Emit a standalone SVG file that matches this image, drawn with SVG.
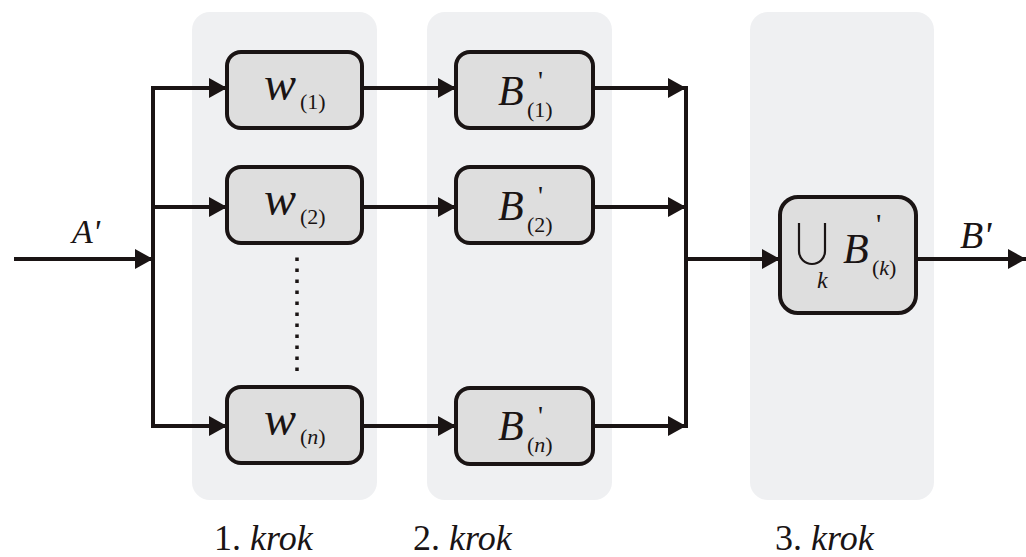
<svg xmlns="http://www.w3.org/2000/svg" width="1026" height="557" viewBox="0 0 1026 557">
  <defs>
    <marker id="arr" viewBox="0 0 18 20" refX="18" refY="10" markerWidth="18" markerHeight="20" markerUnits="userSpaceOnUse" orient="auto">
      <path d="M0,0 L18,10 L0,20 Z" fill="#1a1414"/>
    </marker>
    <style>
      .panel { fill: #eff0f2; }
      .box { fill: #dedede; stroke: #1a1414; stroke-width: 4; }
      .wire { fill: none; stroke: #1a1414; stroke-width: 4; }
      .t { fill: #1a1414; }
      .it { font-style: italic; }
    </style>
  </defs>

  <!-- step panels -->
  <rect class="panel" x="192" y="12" width="185" height="488" rx="18"/>
  <rect class="panel" x="427" y="12" width="185" height="488" rx="18"/>
  <rect class="panel" x="750" y="12" width="184" height="488" rx="18"/>

  <!-- connectors -->
  <g id="connectors">
    <path class="wire" d="M14,259 H153" marker-end="url(#arr)"/>
    <path class="wire" d="M153,86 V428"/>
    <path class="wire" d="M151,88 H227" marker-end="url(#arr)"/>
    <path class="wire" d="M153,207 H227" marker-end="url(#arr)"/>
    <path class="wire" d="M151,426 H227" marker-end="url(#arr)"/>
    <path class="wire" d="M362,88 H456" marker-end="url(#arr)"/>
    <path class="wire" d="M362,207 H456" marker-end="url(#arr)"/>
    <path class="wire" d="M362,426 H456" marker-end="url(#arr)"/>
    <path class="wire" d="M593,88 H686" marker-end="url(#arr)"/>
    <path class="wire" d="M593,207 H686" marker-end="url(#arr)"/>
    <path class="wire" d="M593,426 H686" marker-end="url(#arr)"/>
    <path class="wire" d="M686,86 V428"/>
    <path class="wire" d="M686,259 H780" marker-end="url(#arr)"/>
    <path class="wire" d="M916,259 H1026" marker-end="url(#arr)"/>
    <path d="M297,257.5 V371" fill="none" stroke="#1a1414" stroke-width="3.5" stroke-dasharray="3.5 7.5"/>
  </g>

  <g font-family="Liberation Serif, Times New Roman, serif" class="t">
    <!-- step 1 nodes -->
    <g id="w1">
      <rect class="box" x="227" y="52" width="135" height="76" rx="14"/>
      <text class="it" x="264" y="100" font-size="48">w</text>
      <text x="300" y="109" font-size="22">(1)</text>
    </g>
    <g id="w2">
      <rect class="box" x="227" y="167" width="135" height="76" rx="14"/>
      <text class="it" x="264" y="215" font-size="48">w</text>
      <text x="300" y="224" font-size="22">(2)</text>
    </g>
    <g id="wn">
      <rect class="box" x="227" y="387" width="135" height="76" rx="14"/>
      <text class="it" x="264" y="435" font-size="48">w</text>
      <text x="300" y="444" font-size="22">(<tspan class="it">n</tspan>)</text>
    </g>

    <!-- step 2 nodes -->
    <g id="B1">
      <rect class="box" x="456" y="52" width="137" height="76" rx="14"/>
      <text class="it" x="498" y="105" font-size="42">B</text>
      <text x="538" y="90" font-size="28">'</text>
      <text x="527" y="117" font-size="22">(1)</text>
    </g>
    <g id="B2">
      <rect class="box" x="456" y="167" width="137" height="76" rx="14"/>
      <text class="it" x="498" y="220" font-size="42">B</text>
      <text x="538" y="205" font-size="28">'</text>
      <text x="527" y="232" font-size="22">(2)</text>
    </g>
    <g id="Bn">
      <rect class="box" x="456" y="388" width="137" height="76" rx="14"/>
      <text class="it" x="498" y="440" font-size="42">B</text>
      <text x="538" y="425" font-size="28">'</text>
      <text x="527" y="452" font-size="22">(<tspan class="it">n</tspan>)</text>
    </g>

    <!-- step 3 node -->
    <g id="union">
      <rect class="box" x="780" y="197" width="136" height="116" rx="18"/>
      <path d="M799,223 V251 A13,13 0 0 0 825,251 V223" fill="none" stroke="#1a1414" stroke-width="2.2"/>
      <text class="it" x="817" y="288" font-size="24">k</text>
      <text class="it" x="843" y="263" font-size="42">B</text>
      <text x="876" y="234" font-size="30">'</text>
      <text x="872" y="275" font-size="22">(<tspan class="it">k</tspan>)</text>
    </g>

    <!-- signal labels -->
    <text class="it" x="72" y="243" font-size="34">A'</text>
    <text class="it" x="960" y="248" font-size="38">B'</text>

    <!-- step captions -->
    <text x="214" y="550" font-size="36">1. <tspan class="it">krok</tspan></text>
    <text x="413" y="550" font-size="36">2. <tspan class="it">krok</tspan></text>
    <text x="775" y="550" font-size="36">3. <tspan class="it">krok</tspan></text>
  </g>
</svg>
